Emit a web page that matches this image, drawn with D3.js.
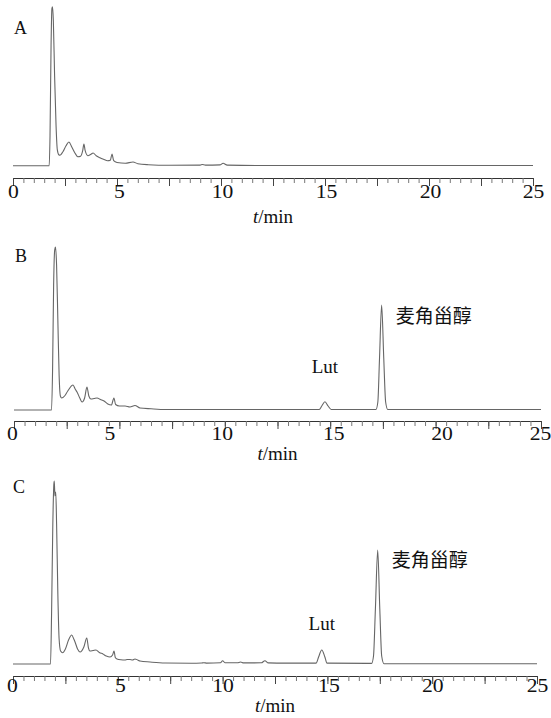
<!DOCTYPE html>
<html>
<head>
<meta charset="utf-8">
<script src="https://cdn.jsdelivr.net/npm/d3@7.9.0/dist/d3.min.js"></script>
<style>
  html, body { margin: 0; padding: 0; background: #fff; }
  svg { display: block; }
  text { font-family: "Liberation Serif", "Times New Roman", "Noto Sans CJK SC", serif; fill: #111; }
  .cjk { font-family: "Noto Sans CJK SC", sans-serif; }
</style>
</head>
<body>
<svg id="chart" width="551" height="718"></svg>
<script>
// --- Data: traces (time in min, signal above baseline)
const traceA = [
  [0, 0], [1.74, 0], [1.78, 30], [1.83, 120], [1.87, 157], [1.9, 159], [1.94, 145], [2.0, 90],
  [2.07, 40], [2.13, 16], [2.2, 11], [2.26, 10.5], [2.4, 14], [2.55, 20], [2.69, 23.7], [2.82, 19],
  [2.97, 13], [3.12, 9], [3.25, 9.5], [3.35, 15], [3.41, 21.7], [3.47, 15], [3.6, 10], [3.75, 11.5],
  [3.85, 12.7], [4.0, 10], [4.18, 8], [4.35, 6.5], [4.55, 5], [4.68, 5.5], [4.76, 11.7], [4.84, 5],
  [5.0, 3.2], [5.4, 2.5], [5.77, 3.7], [6.0, 2], [6.5, 1], [7.5, 0.4], [9.0, 0.6], [9.1, 1.2],
  [9.25, 0.6], [9.95, 0.8], [10.1, 2.4], [10.3, 0.6], [12, 0.2], [25, 0.2]
];
const traceB = [
  [0, 0], [1.78, 0], [1.83, 40], [1.88, 125], [1.93, 160], [1.97, 163], [2.02, 145], [2.08, 90],
  [2.14, 35], [2.2, 14], [2.26, 12], [2.4, 14], [2.55, 19], [2.8, 25], [2.9, 21], [2.99, 18],
  [3.12, 12], [3.23, 8], [3.35, 12], [3.46, 23], [3.55, 14], [3.65, 11], [3.8, 11.5], [3.94, 12],
  [4.1, 10.5], [4.27, 9], [4.45, 6], [4.62, 5], [4.74, 12], [4.82, 5.5], [5.0, 4], [5.27, 4],
  [5.5, 3], [5.74, 4.5], [5.98, 2], [6.5, 1.2], [7.2, 0.5], [14.48, 0.5], [14.6, 4], [14.75, 8.3],
  [14.9, 4], [15.05, 0.5], [17.17, 0.5], [17.26, 8], [17.34, 52], [17.44, 105], [17.54, 52],
  [17.63, 8], [17.73, 0.5], [25, 0.5]
];
const traceC = [
  [0, 0], [1.79, 0], [1.84, 50], [1.9, 140], [1.95, 180], [1.97, 183], [2.0, 168], [2.04, 172],
  [2.08, 140], [2.14, 70], [2.2, 25], [2.27, 13], [2.37, 11.3], [2.5, 15], [2.65, 24], [2.8, 29],
  [2.9, 25], [2.96, 22], [3.08, 15], [3.2, 12], [3.38, 17], [3.52, 26], [3.6, 16], [3.67, 13],
  [3.82, 13.5], [3.96, 14], [4.12, 11.5], [4.29, 10], [4.45, 8], [4.63, 7], [4.75, 9], [4.82, 13],
  [4.88, 6.5], [4.96, 5], [5.15, 4.2], [5.34, 4], [5.45, 4.5], [5.58, 4.5], [5.7, 4], [5.82, 5],
  [5.95, 4], [6.06, 3], [6.54, 2], [7.25, 1], [8.5, 0.8], [9.0, 1], [9.1, 1.3], [9.25, 0.9],
  [9.9, 1.2], [10.0, 3.3], [10.12, 1.2], [10.7, 1.2], [10.86, 2], [11.0, 1.1], [11.85, 1.2],
  [12.02, 3.3], [12.18, 1.1], [13, 0.9], [14.46, 0.9], [14.58, 7], [14.73, 14], [14.88, 7],
  [14.98, 0.9], [17.11, 0.6], [17.2, 8], [17.29, 55], [17.4, 114], [17.5, 55], [17.59, 8],
  [17.7, 0.3], [25, 0.3]
];

const panelLetters = ['A', 'B', 'C'];
const tickLabels = [0, 5, 10, 15, 20, 25];
const majorTicks = [0, 2.5, 5, 7.5, 10, 12.5, 15, 17.5, 20, 22.5, 25];
const minorTicks = d3.range(0, 25.001, 0.5);
const peakNames = ['Lut', '麦角甾醇'];
const peakTimesB = [14.75, 17.44];
const peakTimesC = [14.73, 17.4];
const axisTitle = 'min';

// --- Layout (pixels) per panel
const panels = [
  { trace: traceA, letter: panelLetters[0], peaks: null, nudge: [0, 2, 1, 1, 1, 0],
    x0: 13, x1: 533, base: 165.7, axisY: 178, labelBase: 198, titleBase: 223, letterY: 34, letterX: 14 },
  { trace: traceB, letter: panelLetters[1], peaks: peakTimesB, nudge: [-2, -10, -3, 3, 6, -1],
    x0: 14, x1: 541, base: 410, axisY: 421, labelBase: 440, titleBase: 460, letterY: 262, letterX: 15,
    lutY: 373, ergY: 323 },
  { trace: traceC, letter: panelLetters[2], peaks: peakTimesC, nudge: [-1, 2, 0, 1, 0, 0],
    x0: 13, x1: 537, base: 664, axisY: 676, labelBase: 692, titleBase: 712, letterY: 493, letterX: 13,
    lutY: 630, ergY: 567 }
];

const svg = d3.select('#chart');
svg.append('rect').attr('width', 551).attr('height', 718).attr('fill', '#fff');

const FS = 18;

panels.forEach(p => {
  const x = d3.scaleLinear().domain([0, 25]).range([p.x0, p.x1]);
  const y = d3.scaleLinear().domain([0, 200]).range([p.base, p.base - 200]);
  const g = svg.append('g');

  // minor ticks + axis line
  const minor = g.append('g')
    .attr('transform', `translate(0,${p.axisY})`)
    .call(d3.axisBottom(x).tickValues(minorTicks).tickSize(5).tickSizeOuter(0).tickFormat(''));
  minor.select('.domain').attr('stroke', '#333').attr('stroke-width', 1.1);
  minor.selectAll('.tick line').attr('stroke', '#777');

  // major ticks
  const major = g.append('g')
    .attr('transform', `translate(0,${p.axisY})`)
    .call(d3.axisBottom(x).tickValues(majorTicks).tickSize(8).tickSizeOuter(0).tickFormat(''));
  major.select('.domain').remove();
  major.selectAll('.tick line').attr('stroke', '#444');

  // tick labels (digits in the reference are drawn wide)
  const labels = g.append('g')
    .attr('transform', `translate(0,${p.axisY})`)
    .call(d3.axisBottom(x).tickValues(tickLabels).tickSize(0)
      .tickPadding(p.labelBase - p.axisY - 0.71 * FS).tickFormat(d3.format('d')));
  labels.select('.domain').remove();
  labels.selectAll('text')
    .attr('font-size', FS)
    .attr('font-family', '"Liberation Serif", "Times New Roman", serif')
    .attr('fill', '#111')
    .attr('transform', (d, i) => `translate(${p.nudge[i]},0) scale(1.2,1)`);

  // axis title t/min
  const title = g.append('text')
    .attr('x', x(12.5))
    .attr('y', p.titleBase)
    .attr('text-anchor', 'middle')
    .attr('font-size', 19);
  title.append('tspan').attr('font-style', 'italic').text('t');
  title.append('tspan').text('/' + axisTitle);

  // trace
  const line = d3.line()
    .x(d => x(d[0]))
    .y(d => y(d[1]))
    .curve(d3.curveMonotoneX);
  g.append('path')
    .datum(p.trace)
    .attr('d', line)
    .attr('fill', 'none')
    .attr('stroke', '#666')
    .attr('stroke-width', 1.1);

  // panel letter
  g.append('text')
    .attr('x', p.letterX)
    .attr('y', p.letterY)
    .attr('font-size', 18)
    .text(p.letter);

  // peak annotations
  if (p.peaks) {
    g.append('text')
      .attr('x', x(p.peaks[0]))
      .attr('y', p.lutY)
      .attr('text-anchor', 'middle')
      .attr('font-size', 19)
      .text(peakNames[0]);
    g.append('text')
      .attr('class', 'cjk')
      .attr('x', x(p.peaks[1]) + 14)
      .attr('y', p.ergY)
      .attr('font-size', 19)
      .attr('fill', '#222')
      .text(peakNames[1]);
  }
});
</script>
</body>
</html>
